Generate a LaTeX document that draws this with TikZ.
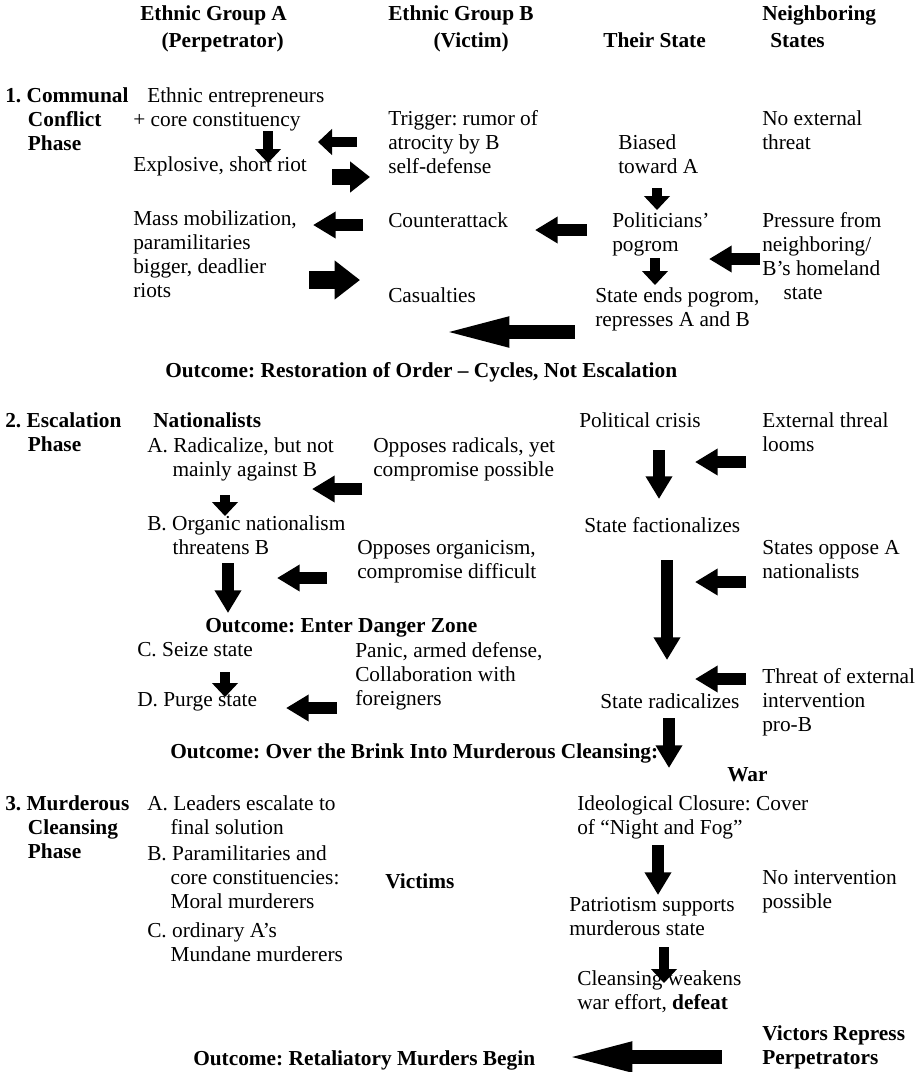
\documentclass[tikz,border=0pt]{standalone}
\usepackage{fontspec}
\setmainfont{Liberation Serif}
\usetikzlibrary{arrows.meta}

\begin{document}
\frenchspacing
\begin{tikzpicture}[x=0.75pt, y=-0.75pt,
    every node/.style={inner sep=0pt, font=\fontsize{16pt}{18pt}\selectfont},
    txt/.style={anchor=north west, align=left},
    hd/.style={anchor=north west, align=left, font=\fontsize{16pt}{18pt}\selectfont\bfseries},
    fatarr/.style={line width=9.5pt, -{Triangle[width=19pt,length=17pt]}},
    stubarr/.style={line width=8pt, -{Triangle[width=19pt,length=10.5pt]}},
    midarr/.style={line width=12pt, -{Triangle[width=22.5pt,length=15pt]}},
    bigarr/.style={line width=14pt, -{Triangle[width=28pt,length=19pt]}},
    longarr/.style={line width=11pt, -{Triangle[width=19.5pt,length=55pt]}}]
        \fill[white] (0,0) rectangle (921,1072);
        \useasboundingbox (0,0) rectangle (921,1072);
        % column heads
        \node[hd] (grpA) at (140,5) {Ethnic Group A\\[2.5pt]\hspace*{16pt}(Perpetrator)};
        \node[hd] (grpB) at (388,5) {Ethnic Group B\\[2.5pt]\hspace*{34pt}(Victim)};
        \node[hd] (state) at (603,32) {Their State};
        \node[hd] (neigh) at (762,5) {Neighboring\\[2.5pt]\hspace*{6pt}States};
        % phase 1
        \node[hd] (ph1) at (5,87) {1. Communal\\\hspace*{17pt}Conflict\\\hspace*{17pt}Phase};
        \node[txt] (entre) at (133,87) {\hspace*{10.5pt}Ethnic entrepreneurs\\+ core constituency};
        \node[txt] (riot) at (133,156) {Explosive, short riot};
        \node[txt] (trig) at (388,110) {Trigger: rumor of\\atrocity by B\\self-defense};
        \node[txt] (bias) at (618,134) {Biased\\toward A};
        \node[txt] (noext) at (762,110) {No external\\threat};
        \node[txt] (mass) at (133,210) {Mass mobilization,\\paramilitaries\\bigger, deadlier\\riots};
        \node[txt] (counter) at (388,212) {Counterattack};
        \node[txt] (cas) at (388,287) {Casualties};
        \node[txt] (pogrom) at (612,212) {Politicians'\\pogrom};
        \node[txt] (press) at (762,212) {Pressure from\\neighboring/\\B's homeland\\\hspace*{16pt}state};
        \node[txt] (ends) at (595,287) {State ends pogrom,\\represses A and B};
        \node[hd] (out1) at (165,362) {Outcome: Restoration of Order -- Cycles, Not Escalation};
        % phase 2
        \node[hd] (ph2) at (5,412) {2. Escalation\\\hspace*{17pt}Phase};
        \node[hd] (nat) at (153,412) {Nationalists};
        \node[txt] (radA) at (147,437) {A. Radicalize, but not\\\hspace*{19pt}mainly against B};
        \node[txt] (orgB) at (147,515) {B. Organic nationalism\\\hspace*{19pt}threatens B};
        \node[txt] (oppR) at (373,437) {Opposes radicals, yet\\compromise possible};
        \node[txt] (oppO) at (357,540) {Opposes organicism,\\compromise difficult};
        \node[txt] (crisis) at (579,412) {Political crisis};
        \node[txt] (extthr) at (762,412) {External threal\\looms};
        \node[txt] (fact) at (584,517) {State factionalizes};
        \node[txt] (soppose) at (762,540) {States oppose A\\nationalists};
        \node[hd] (out2) at (205,618) {Outcome: Enter Danger Zone};
        \node[txt] (seize) at (137,642) {C. Seize state};
        \node[txt] (purge) at (137,692) {D. Purge state};
        \node[txt] (panic) at (355,642) {Panic, armed defense,\\Collaboration with\\foreigners};
        \node[txt] (threat) at (762,668) {Threat of external\\intervention\\pro-B};
        \node[txt] (rad) at (600,693) {State radicalizes};
        \node[hd] (out3) at (170,743) {Outcome: Over the Brink Into Murderous Cleansing:};
        \node[hd] (war) at (727,767) {War};
        % phase 3
        \node[hd] (ph3) at (5,795) {3. Murderous\\\hspace*{17pt}Cleansing\\\hspace*{17pt}Phase};
        \node[txt] (leadA) at (147,795) {A. Leaders escalate to\\\hspace*{17.5pt}final solution};
        \node[txt] (leadB) at (147,845) {B. Paramilitaries and\\\hspace*{17.5pt}core constituencies:\\\hspace*{17.5pt}Moral murderers};
        \node[txt] (leadC) at (147,922) {C. ordinary A's\\\hspace*{17.5pt}Mundane murderers};
        \node[hd] (victims) at (385,873) {Victims};
        \node[txt] (ideo) at (577,795) {Ideological Closure: Cover\\of ``Night and Fog''};
        \node[txt] (noint) at (762,870) {No intervention\\possible};
        \node[txt] (patr) at (569,897) {Patriotism supports\\murderous state};
        \node[txt] (clean) at (577,970) {Cleansing weakens\\war effort, \textbf{defeat}};
        \node[hd] (victors) at (762,1025) {Victors Repress\\Perpetrators};
        \node[hd] (out4) at (193,1050) {Outcome: Retaliatory Murders Begin};
        % arrow ends
        \coordinate (entreS) at (268,131);   \coordinate (entreE) at (268,163);
        \coordinate (trigS) at (357,142);    \coordinate (trigE) at (318,142);
        \coordinate (riotS) at (332,177);    \coordinate (riotE) at (370,177);
        \coordinate (biasS) at (657,188);    \coordinate (biasE) at (657,210);
        \coordinate (countS) at (363,225);   \coordinate (countE) at (313,225);
        \coordinate (massS) at (309,280);    \coordinate (massE) at (360,280);
        \coordinate (pogS) at (587,230);     \coordinate (pogE) at (535,230);
        \coordinate (pogdS) at (655,258);    \coordinate (pogdE) at (655,285);
        \coordinate (pressS) at (760,259);   \coordinate (pressE) at (709,259);
        \coordinate (endsS) at (575,332);    \coordinate (endsE) at (436,332);
        \coordinate (crisS) at (659,450);    \coordinate (crisE) at (659,499);
        \coordinate (extS) at (746,462);     \coordinate (extE) at (695,462);
        \coordinate (oppRS) at (362,489);    \coordinate (oppRE) at (312,489);
        \coordinate (radAS) at (225,495);    \coordinate (radAE) at (225,516);
        \coordinate (orgS) at (228,563);     \coordinate (orgE) at (228,613);
        \coordinate (oppOS) at (327,578);    \coordinate (oppOE) at (277,578);
        \coordinate (factS) at (667,560);    \coordinate (factE) at (667,660);
        \coordinate (soppS) at (746,582);    \coordinate (soppE) at (695,582);
        \coordinate (seizeS) at (225,672);   \coordinate (seizeE) at (225,697);
        \coordinate (panicS) at (337,708);   \coordinate (panicE) at (286,708);
        \coordinate (thrS) at (746,679);     \coordinate (thrE) at (695,679);
        \coordinate (radS) at (669,718);     \coordinate (radE) at (669,768);
        \coordinate (ideoS) at (658,845);    \coordinate (ideoE) at (658,895);
        \coordinate (patrS) at (664,947);    \coordinate (patrE) at (664,983);
        \coordinate (victS) at (722,1057);   \coordinate (victE) at (559,1057);
        % arrows
        \draw[stubarr] (entreS) -- (entreE);
        \draw[stubarr] (trigS) -- (trigE);
        \draw[midarr] (riotS) -- (riotE);
        \draw[stubarr] (biasS) -- (biasE);
        \draw[fatarr] (countS) -- (countE);
        \draw[bigarr] (massS) -- (massE);
        \draw[fatarr] (pogS) -- (pogE);
        \draw[stubarr] (pogdS) -- (pogdE);
        \draw[fatarr] (pressS) -- (pressE);
        \draw[longarr] (endsS) -- (endsE);
        \draw[fatarr] (crisS) -- (crisE);
        \draw[fatarr] (extS) -- (extE);
        \draw[fatarr] (oppRS) -- (oppRE);
        \draw[stubarr] (radAS) -- (radAE);
        \draw[fatarr] (orgS) -- (orgE);
        \draw[fatarr] (oppOS) -- (oppOE);
        \draw[fatarr] (factS) -- (factE);
        \draw[fatarr] (soppS) -- (soppE);
        \draw[stubarr] (seizeS) -- (seizeE);
        \draw[fatarr] (panicS) -- (panicE);
        \draw[fatarr] (thrS) -- (thrE);
        \draw[fatarr] (radS) -- (radE);
        \draw[fatarr] (ideoS) -- (ideoE);
        \draw[stubarr] (patrS) -- (patrE);
        \draw[longarr] (victS) -- (victE);
\end{tikzpicture}
\end{document}
